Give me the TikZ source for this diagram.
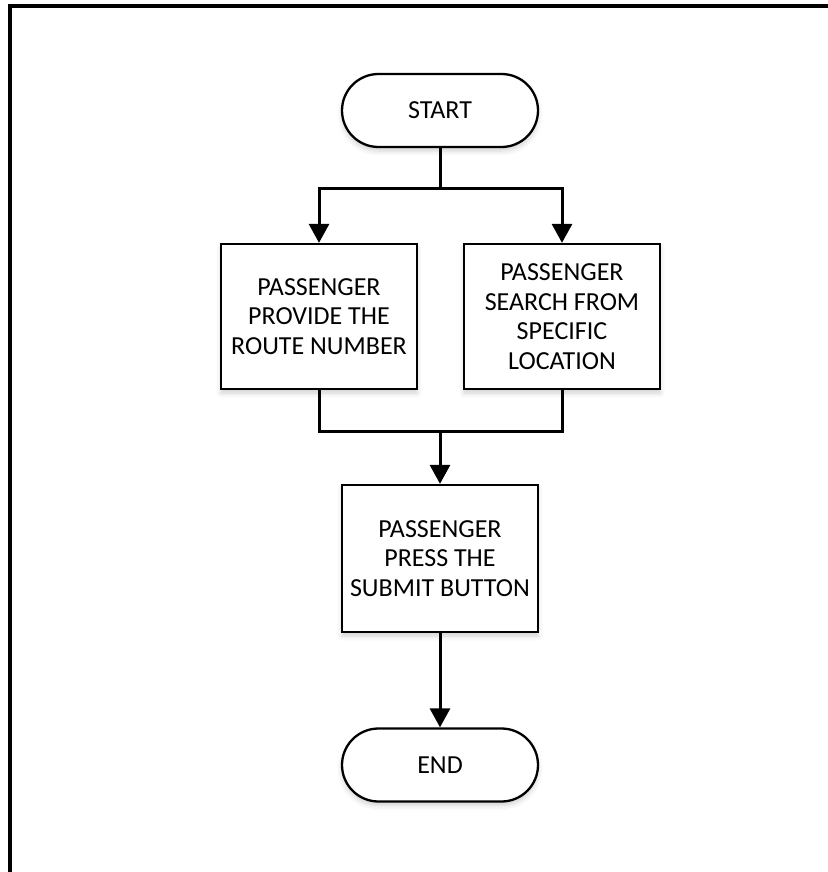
\documentclass[tikz,border=0pt]{standalone}
\usepackage{fontspec}
\setmainfont{Carlito}
\usetikzlibrary{arrows.meta,shadows.blur}
\begin{document}
\begin{tikzpicture}[x=1pt,y=-1pt,
  boxstyle/.style={draw=black,line width=2.3pt,fill=white,minimum width=196pt,align=center,
    font=\fontsize{26}{29.5}\selectfont,inner sep=0pt,
    blur shadow={shadow xshift=0pt,shadow yshift=-4pt,shadow blur radius=5pt,shadow opacity=18}},
  termstyle/.style={boxstyle,minimum height=73pt,rounded corners=36.5pt},
  procstyle/.style={boxstyle,minimum height=145pt},
  conn/.style={line width=3pt},
  arr/.style={conn,-{Triangle[width=20pt,length=19pt]}}]
\useasboundingbox (0,0) rectangle (827,872);
\draw[line width=4pt] (10,874) -- (10,6) -- (829,6);

\node[termstyle] (start) at (440,110.5) {START};
\node[procstyle] (b1) at (319,316.5) {PASSENGER\\PROVIDE THE\\ROUTE NUMBER};
\node[procstyle] (b2) at (562,316.5) {PASSENGER\\SEARCH FROM\\SPECIFIC\\LOCATION};
\node[boxstyle,minimum height=147pt] (b3) at (440,558.5) {PASSENGER\\PRESS THE\\SUBMIT BUTTON};
\node[termstyle] (end) at (440,765) {END};

\coordinate (split) at (440,188);
\coordinate (merge) at (440,431);

\draw[conn] (start.south) -- (split);
\draw[arr] (split) -| (b1.north);
\draw[arr] (split) -| (b2.north);
\draw[conn] (b1.south) |- (merge);
\draw[conn] (b2.south) |- (merge);
\draw[arr] (merge) -- (b3.north);
\draw[arr] (b3.south) -- (end.north);
\end{tikzpicture}
\end{document}
